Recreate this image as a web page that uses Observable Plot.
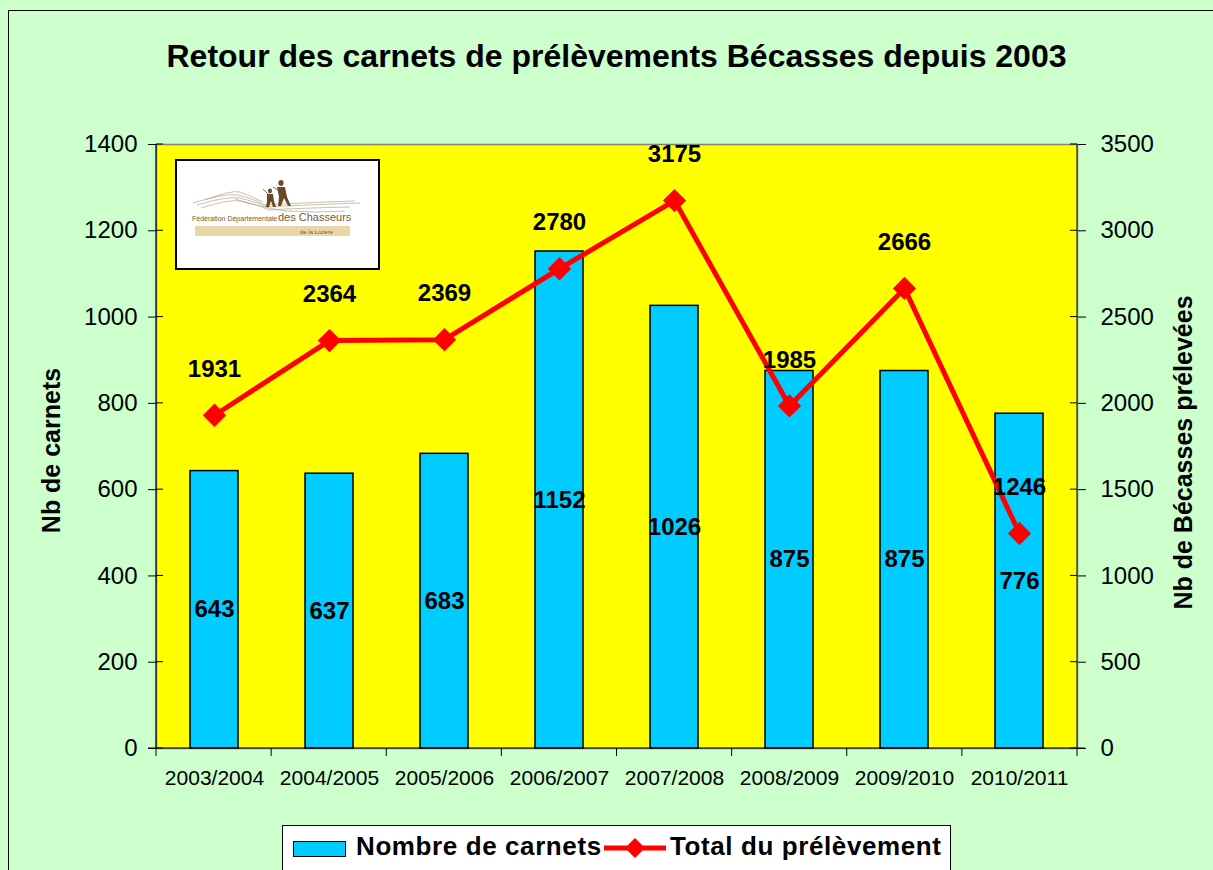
<!DOCTYPE html>
<html>
<head>
<meta charset="utf-8">
<script src="https://cdn.jsdelivr.net/npm/d3@7"></script>
<script src="https://cdn.jsdelivr.net/npm/@observablehq/plot@0.6"></script>
<style>
  html, body { margin:0; padding:0; }
  body { width:1213px; height:870px; overflow:hidden; background:#CCFFCC; font-family:"Liberation Sans", Arial, sans-serif; }
  #page { position:relative; width:1213px; height:870px; overflow:hidden; }
  #border { position:absolute; left:8px; top:10px; width:1300px; height:1000px; border:1.5px solid #000; box-sizing:border-box; }
  #chart { position:absolute; left:0; top:0; }
  #title { position:absolute; left:0; width:1233px; top:38px; text-align:center; font-weight:bold; font-size:32px; color:#000; }
  .ytitle { position:absolute; font-weight:bold; font-size:25px; white-space:nowrap; transform-origin:center; }
  #legend { position:absolute; left:282px; top:825px; width:669px; height:70px; background:#fff; border:1.5px solid #000; box-sizing:border-box; }
  #legend .sw { position:absolute; left:10px; top:15px; width:51px; height:14px; background:#00CCFF; border:1.5px solid #000; }
  #legend .t { position:absolute; top:5px; font-weight:bold; font-size:26px; letter-spacing:0.6px; white-space:nowrap; }
  #logo { position:absolute; left:175px; top:159px; }
</style>
</head>
<body>
<div id="page">
  <div id="border"></div>
  <div id="chart"></div>
  <div id="title">Retour des carnets de prélèvements Bécasses depuis 2003</div>
  <div class="ytitle" id="yl">Nb de carnets</div>
  <div class="ytitle" id="yr">Nb de Bécasses prélevées</div>
  <svg id="logo" width="205" height="111" viewBox="0 0 205 111">
    <rect x="1" y="1" width="203" height="109" fill="#fff" stroke="#000" stroke-width="2"/>
    <g fill="none" stroke="#a89274" stroke-width="0.6">
      <path d="M18 44 Q50 34 62 36 Q80 40 90 46 Q120 44 180 42"/>
      <path d="M22 46 Q52 37 64 39 Q82 43 92 48 Q125 46 185 44"/>
      <path d="M26 49 Q54 40 66 42 Q84 46 94 51 Q125 49 175 48"/>
      <path d="M30 41 Q55 31 65 33 Q78 38 88 43"/>
      <path d="M60 40 Q76 46 110 52 Q140 54 170 52"/>
    </g>
    <g fill="#6b4a22">
      <ellipse cx="106" cy="24" rx="2.6" ry="3"/>
      <path d="M102 28 L110 28 L112 38 L116 47 L113 47 L109 39 L106 47 L103 47 L104 38 Z"/>
      <ellipse cx="95" cy="32" rx="2" ry="2.4"/>
      <path d="M92 35 L98 35 L99 42 L101 48 L98 48 L96 42 L94 48 L91 48 L92 42 Z"/>
    </g>
    <g stroke="#6b4a22" stroke-width="0.8"><line x1="98" y1="28" x2="104" y2="32"/><line x1="88" y1="30" x2="94" y2="36"/></g>
    <text x="17" y="62" font-size="7" fill="#7a5a30" font-family="Liberation Sans, Arial">Fédération Départementale</text>
    <text x="103" y="62" font-size="11" fill="#7a5a30" font-family="Liberation Sans, Arial">des Chasseurs</text>
    <rect x="20" y="67" width="155" height="10" fill="#e9d6a6"/>
    <text x="125" y="74.5" font-size="6" fill="#7a5a30" font-family="Liberation Sans, Arial">de la Lozère</text>
  </svg>
  <div id="legend">
    <div class="sw"></div>
    <div class="t" style="left:73px">Nombre de carnets</div>
    <svg style="position:absolute;left:321px;top:8px" width="64" height="30">
      <line x1="0" y1="14" x2="62" y2="14" stroke="#FF0000" stroke-width="5"/>
      <path d="M31 4 L41 14 L31 24 L21 14 Z" fill="#FF0000"/>
    </svg>
    <div class="t" style="left:387px">Total du prélèvement</div>
  </div>
</div>
<script>
// ---- data ----
const saisons = ["2003/2004","2004/2005","2005/2006","2006/2007","2007/2008","2008/2009","2009/2010","2010/2011"];
const nbCarnets = [643, 637, 683, 1152, 1026, 875, 875, 776];
const totalPrelevement = [1931, 2364, 2369, 2780, 3175, 1985, 2666, 1246];
const leftTicks = [0, 200, 400, 600, 800, 1000, 1200, 1400];
const rightTicks = [0, 500, 1000, 1500, 2000, 2500, 3000, 3500];

const leftMax = 1400, rightMax = 3500;
const k = leftMax / rightMax;

const data = saisons.map((s, i) => ({
  saison: s,
  carnets: nbCarnets[i],
  total: totalPrelevement[i],
  totalScaled: totalPrelevement[i] * k
}));

const font = "Liberation Sans, Arial, sans-serif";

// custom axis lines and cross ticks
function axisLines(index, scales, values, dims) {
  const g = d3.create("svg:g");
  const L = dims.marginLeft, R = dims.width - dims.marginRight;
  const T = dims.marginTop, B = dims.height - dims.marginBottom;
  g.append("line").attr("x1", L).attr("x2", L).attr("y1", T).attr("y2", B).attr("stroke", "#000").attr("stroke-width", 1.2);
  g.append("line").attr("x1", R).attr("x2", R).attr("y1", T).attr("y2", B).attr("stroke", "#333").attr("stroke-width", 1.2);
  g.append("line").attr("x1", L - 8).attr("x2", R + 8).attr("y1", B).attr("y2", B).attr("stroke", "#000").attr("stroke-width", 1.2);
  leftTicks.forEach(t => {
    const y = scales.y(t);
    g.append("line").attr("x1", L).attr("x2", L + 7).attr("y1", y).attr("y2", y).attr("stroke", "#000");
  });
  rightTicks.forEach(t => {
    const y = scales.y(t * k);
    g.append("line").attr("x1", R - 7).attr("x2", R).attr("y1", y).attr("y2", y).attr("stroke", "#000");
  });
  const n = saisons.length;
  for (let i = 0; i <= n; i++) {
    const x = L + i * (R - L) / n;
    g.append("line").attr("x1", x).attr("x2", x).attr("y1", B).attr("y2", B + 8).attr("stroke", "#000");
  }
  return g.node();
}

const chart = Plot.plot({
  width: 1213,
  height: 870,
  marginLeft: 156,
  marginRight: 136,
  marginTop: 144,
  marginBottom: 122,
  style: { background: "transparent", fontFamily: font, color: "#000" },
  x: { domain: saisons, paddingInner: 0.58, paddingOuter: 0.29, label: null },
  y: { domain: [0, leftMax], label: null },
  marks: [
    Plot.frame({ fill: "#FFFF00", stroke: "#808080", strokeWidth: 1.5 }),
    Plot.barY(data, { x: "saison", y: "carnets", fill: "#00CCFF", stroke: "#000", strokeWidth: 1.5 }),
    Plot.line(data, { x: "saison", y: "totalScaled", stroke: "#FF0000", strokeWidth: 5 }),
    Plot.dot(data, { x: "saison", y: "totalScaled", symbol: "diamond2", r: 10.5, fill: "#FF0000", stroke: "none" }),
    Plot.text(data, { x: "saison", y: d => d.carnets / 2, text: d => String(d.carnets), fontWeight: "bold", fontSize: 24, fill: "#000" }),
    Plot.text(data, { x: "saison", y: "totalScaled", text: d => String(d.total), dy: -46, fontWeight: "bold", fontSize: 24, fill: "#000" }),
    axisLines,
    Plot.axisY(leftTicks, { anchor: "left", tickSize: 8, tickPadding: 11, fontSize: 24, label: null, tickFormat: d => String(d) }),
    Plot.axisY(rightTicks.map(v => v * k), { anchor: "right", tickSize: 8, tickPadding: 15, fontSize: 24, label: null, tickFormat: v => String(Math.round(v / k)) }),
    Plot.axisX({ anchor: "bottom", tickSize: 0, tickPadding: 22, fontSize: 21, label: null })
  ]
});
document.getElementById("chart").appendChild(chart);

// position rotated axis titles
function placeRot(id, cx, cy) {
  const el = document.getElementById(id);
  const w = el.offsetWidth, h = el.offsetHeight;
  el.style.left = (cx - w / 2) + "px";
  el.style.top = (cy - h / 2) + "px";
  el.style.transform = "rotate(-90deg)";
}
placeRot("yl", 51, 450);
placeRot("yr", 1183, 452);
</script>
</body>
</html>
